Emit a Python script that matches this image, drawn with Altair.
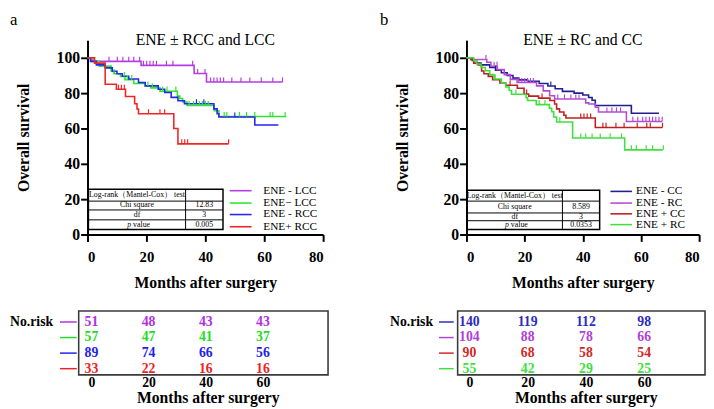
import altair as alt
import pandas as pd

SERIF = "Liberation Serif"

# ---------------- Panel a : ENE ± RCC and LCC ----------------
A_TITLE = "ENE ± RCC and LCC"
A_NAMES = ["ENE - LCC", "ENE− LCC", "ENE - RCC", "ENE+ RCC"]
A_LINE_COLORS = ["#B43CE6", "#2EE62E", "#2626F0", "#F02626"]
A_TEXT_COLORS = ["#B030E0", "#22DD22", "#2222EE", "#EE2222"]

A1_T = [0, 1.5, 18.2, 36.2, 40.4, 66.2]
A1_S = [100, 98, 95.7, 91.1, 86.3, 86.3]
A1_C = [7.3, 10.1, 12, 14, 15.7, 17.7, 19, 20.1, 21.2, 22.3, 23.4, 26.8, 29, 35.7,
        37.4, 39.9, 41.8, 42.9, 44, 45.1, 46.2, 49, 52.1, 55.1, 59, 62.9, 66.2]
A2_T = [0, 2, 4, 8, 9, 11.2, 12.7, 15.7, 19.6, 21.5, 24.6, 30.5, 31.3, 32.3, 33.8, 43, 44.6, 67.5]
A2_S = [100, 98, 95.3, 92.5, 91, 89.4, 87.6, 85.5, 84, 83, 81.1, 78.3, 77, 75, 73, 70, 66.8, 66.8]
A2_C = [9, 12.5, 13.5, 15, 20.5, 22, 25.5, 27, 30, 34.5, 36, 37, 38, 39, 40, 41,
        46.4, 47.3, 51.6, 54, 56.8, 62, 62.9, 67.1]
A3_T = [0, 1, 3, 6, 8.4, 10, 11.8, 14, 17.3, 19.6, 24, 26.2, 28.4, 30.7, 32.9, 42.9, 44, 44.6, 56.8, 64.8]
A3_S = [100, 98, 96, 94.3, 92.4, 91, 89.6, 88, 86, 84.1, 82.2, 80.4, 77.6, 75.7, 74, 71.1, 68.3, 66.5, 62, 62]
A3_C = [37, 39.5, 50]
A4_T = [0, 2.4, 6, 9.8, 12.9, 16, 16.8, 17.3, 29.3, 30.7, 47.9]
A4_S = [100, 97, 85, 82.2, 78.1, 74, 71, 68.3, 60, 51.3, 51.3]
A4_C = [10.5, 11.5, 12.5, 20.7, 24.6, 26.2, 32, 33, 34, 47.9]

A_STAT_LABELS = ["Log-rank（Mantel-Cox） test", "Chi square", "df", "p value"]
A_STAT_VALUES = ["", "12.83", "3", "0.005"]

A_RISK_TIMES = [0, 20, 40, 60]
A1_RISK = [51, 48, 43, 43]
A2_RISK = [57, 47, 41, 37]
A3_RISK = [89, 74, 66, 56]
A4_RISK = [33, 22, 16, 16]

# ---------------- Panel b : ENE ± RC and CC ----------------
B_TITLE = "ENE ± RC and CC"
B_NAMES = ["ENE -  CC", "ENE - RC", "ENE + CC", "ENE +  RC"]
B_LINE_COLORS = ["#20208E", "#B44BD6", "#BE2020", "#3EE03E"]
B_TEXT_COLORS = ["#2B2BC0", "#B040D8", "#D02828", "#3CE03C"]

B1_T = [0, 2, 3.5, 5, 8, 10, 12, 14, 16, 18, 21, 25, 28, 30.5, 33, 37, 40, 42, 43.2, 44.3, 56.7, 66.2]
B1_S = [100, 98.5, 97, 96, 94.5, 93, 91.5, 90, 88.5, 87.5, 86.7, 85.5, 84, 82.5, 81, 80, 79, 77.5, 76, 73, 68.6, 68.6]
B1_C = [10, 29]
B2_T = [0, 1.5, 7, 8.4, 10.6, 13, 15.1, 17.4, 24.1, 26.4, 28.6, 30.3, 41, 42.1, 44.3, 45.4, 55, 67.3]
B2_S = [100, 99, 97.5, 95.2, 93.3, 90.5, 87.8, 86, 84.1, 81.3, 78.5, 76.7, 74.5, 73.9, 72, 69.3, 64, 64]
B2_C = [6.7, 9.5, 10.5, 18, 19, 20, 21, 22, 23, 31.4, 33.7, 35.9, 37.6, 38.7, 48.3, 50, 51.6, 53,
        57.2, 58.9, 60.6, 61.7, 62.9, 64, 65.1, 66.2, 67.3]
B3_T = [0, 1.5, 2.5, 4, 5.2, 6, 7.5, 9, 11.5, 13.5, 17.5, 19.8, 21.4, 24.8, 28.7, 30.3, 31, 32, 33.5, 34.2, 44.3, 67.4]
B3_S = [100, 99, 97, 95.9, 92.5, 91, 89.5, 87.6, 85.7, 84.5, 82.8, 79.5, 78.3, 77.2, 75.8, 73.9, 71.1, 69.3, 67.5, 65.9, 60.6, 60.6]
B3_C = [15, 20.7, 26, 39.3, 40.4, 41.5, 42.7, 46.9, 48, 51.4, 54.2, 58.7, 62, 63.2, 67.4]
B4_T = [0, 2.5, 3.5, 5, 6.5, 8, 9.5, 12, 13.5, 14.7, 15.5, 20.5, 21, 24, 28.5, 29.3, 30, 31, 36.5, 54.4, 67.5]
B4_S = [100, 98.5, 96.5, 94.5, 92.7, 90.5, 88, 85.7, 83.5, 81.5, 79.4, 77.4, 75.8, 73.5, 71.5, 69.5, 66.5, 63.7, 54.6, 47.9, 47.9]
B4_C = [9.9, 17, 25, 27, 32.1, 39.3, 41, 43.2, 46, 49.4, 53.3, 56.7, 58.4, 61.8, 64, 67.7]

B_STAT_LABELS = ["Log-rank（Mantel-Cox） test", "Chi square", "df", "p value"]
B_STAT_VALUES = ["", "8.589", "3", "0.0353"]

B_RISK_TIMES = [0, 20, 40, 60]
B1_RISK = [140, 119, 112, 98]
B2_RISK = [104, 88, 78, 66]
B3_RISK = [90, 68, 58, 54]
B4_RISK = [55, 42, 29, 25]

TICK_H = 2.6  # censor tick height (survival units)


def step_value(ts, ss, c):
    v = ss[0]
    for t, s in zip(ts, ss):
        if t <= c:
            v = s
    return v


def km_plot(title, names, colors, series, width, st_x, st_y, labels, values, leg_x, leg_y):
    xs = alt.Scale(domain=[0, 80], nice=False, zero=False)
    ys = alt.Scale(domain=[0, 110], nice=False, zero=False)
    axis_style = dict(domainColor="black", domainWidth=2, tickColor="black", tickWidth=2,
                      labelFont=SERIF, labelFontWeight="bold", labelColor="black",
                      titleFont=SERIF, titleFontWeight="bold", titleFontSize=16, titleColor="black",
                      grid=False)
    xaxis = alt.Axis(values=[0, 20, 40, 60, 80], title="Months after surgery", tickSize=7,
                     labelFontSize=15, labelPadding=9, titlePadding=10, **axis_style)
    yaxis = alt.Axis(values=[0, 20, 40, 60, 80, 100], title="Overall survival", tickSize=7,
                     labelFontSize=16, labelPadding=1, titlePadding=25, **axis_style)

    def X(f):
        return alt.X(f, scale=xs, axis=xaxis)

    def Y(f):
        return alt.Y(f, scale=ys, axis=yaxis)

    crow, krow = [], []
    for name, col, (ts, ss, cs) in zip(names, colors, series):
        for i, (t, s) in enumerate(zip(ts, ss)):
            crow.append(dict(t=t, s=s, g=name, col=col, i=i))
        for c in cs:
            v = step_value(ts, ss, c)
            krow.append(dict(t=c, s=v, s2=v + TICK_H, g=name, col=col))
    cdf, kdf = pd.DataFrame(crow), pd.DataFrame(krow)

    lines = alt.Chart(cdf).mark_line(interpolate="step-after", strokeWidth=1.6).encode(
        x=X("t:Q"), y=Y("s:Q"), color=alt.Color("col:N", scale=None),
        detail="g:N", order="i:Q")
    ticks = alt.Chart(kdf).mark_rule(strokeWidth=1.2).encode(
        x=X("t:Q"), y=Y("s:Q"), y2="s2:Q", color=alt.Color("col:N", scale=None))

    # statistics box
    x0, xd, x1 = st_x
    box = alt.Chart(pd.DataFrame([dict(a=x0, b=x1, c=st_y[0], d=st_y[-1])])).mark_rect(
        fillOpacity=0, stroke="black", strokeWidth=1.5).encode(
        x=X("a:Q"), x2="b:Q", y=Y("c:Q"), y2="d:Q")
    hl = alt.Chart(pd.DataFrame([dict(a=x0, b=x1, c=y) for y in st_y[1:-1]])).mark_rule(
        color="black", strokeWidth=1).encode(x=X("a:Q"), x2="b:Q", y=Y("c:Q"))
    vl = alt.Chart(pd.DataFrame([dict(a=xd, c=st_y[0], d=st_y[-1])])).mark_rule(
        color="black", strokeWidth=1).encode(x=X("a:Q"), y=Y("c:Q"), y2="d:Q")
    trows, prow = [], []
    for k, (lab, val) in enumerate(zip(labels, values)):
        ym = (st_y[k] + st_y[k + 1]) / 2
        if lab.startswith("p "):
            prow.append(dict(x=(x0 + xd) / 2, y=ym, a="p", b=lab[2:]))
        else:
            trows.append(dict(x=(x0 + xd) / 2, y=ym, txt=lab))
        trows.append(dict(x=(xd + x1) / 2, y=ym, txt=val))
    ttext = alt.Chart(pd.DataFrame(trows)).mark_text(
        font=SERIF, fontSize=8, baseline="middle", color="black").encode(
        x=X("x:Q"), y=Y("y:Q"), text="txt:N")
    pdf = pd.DataFrame(prow)
    ptext = alt.Chart(pdf).mark_text(font=SERIF, fontSize=8, baseline="middle", align="right",
                                     fontStyle="italic", dx=-6, color="black").encode(
        x=X("x:Q"), y=Y("y:Q"), text="a:N")
    vtext = alt.Chart(pdf).mark_text(font=SERIF, fontSize=8, baseline="middle", align="left",
                                     dx=-4, color="black").encode(
        x=X("x:Q"), y=Y("y:Q"), text="b:N")

    # legend
    ldf = pd.DataFrame([dict(a=leg_x[0], b=leg_x[1], tx=leg_x[2], y=y, g=n, col=c)
                        for n, c, y in zip(names, colors, leg_y)])
    lrule = alt.Chart(ldf).mark_rule(strokeWidth=1.6).encode(
        x=X("a:Q"), x2="b:Q", y=Y("y:Q"), color=alt.Color("col:N", scale=None))
    ltext = alt.Chart(ldf).mark_text(font=SERIF, fontSize=11.5, align="left", baseline="middle",
                                     color="black").encode(
        x=X("tx:Q"), y=Y("y:Q"), text="g:N")

    return alt.layer(lines, ticks, box, hl, vl, ttext, ptext, vtext, lrule, ltext).properties(
        width=width, height=198,
        title=alt.TitleParams(title, font=SERIF, fontSize=16, fontWeight="normal", color="black",
                              offset=-8))


def risk_table(names, colors, risks, times, width, x_dom, box_x, line_x, norisk_x):
    xs = alt.Scale(domain=x_dom, nice=False, zero=False)
    ys = alt.Scale(domain=[0.3, 4.4], nice=False, zero=False, reverse=True)
    xaxis = alt.Axis(values=times, title="Months after surgery", domain=False, ticks=False, tickSize=0,
                     labelFont=SERIF, labelFontWeight="bold", labelFontSize=14, labelColor="black",
                     labelPadding=1, titleFont=SERIF, titleFontWeight="bold", titleFontSize=16,
                     titleColor="black", titlePadding=0, grid=False)

    def X(f):
        return alt.X(f, scale=xs, axis=xaxis)

    def Y(f):
        return alt.Y(f, scale=ys, axis=None)

    rows = []
    for r, (n, c, vals) in enumerate(zip(names, colors, risks), start=1):
        for t, v in zip(times, vals):
            rows.append(dict(t=t, r=r, v=str(v), col=c))
    df = pd.DataFrame(rows)
    nums = alt.Chart(df).mark_text(font=SERIF, fontSize=14, fontWeight="bold", baseline="middle").encode(
        x=X("t:Q"), y=Y("r:Q"), text="v:N", color=alt.Color("col:N", scale=None))
    box = alt.Chart(pd.DataFrame([dict(a=box_x[0], b=box_x[1], c=0.3, d=4.4)])).mark_rect(
        fillOpacity=0, stroke="#3a3a3a", strokeWidth=1.6).encode(
        x=X("a:Q"), x2="b:Q", y=Y("c:Q"), y2="d:Q")
    ldf = pd.DataFrame([dict(a=line_x[0], b=line_x[1], r=r, col=c)
                        for r, c in enumerate(colors, start=1)])
    lines = alt.Chart(ldf).mark_rule(strokeWidth=1.5).encode(
        x=X("a:Q"), x2="b:Q", y=Y("r:Q"), color=alt.Color("col:N", scale=None))
    nr = alt.Chart(pd.DataFrame([dict(x=norisk_x, r=1, txt="No.risk")])).mark_text(
        font=SERIF, fontSize=14, fontWeight="bold", align="right", baseline="middle", color="black").encode(
        x=X("x:Q"), y=Y("r:Q"), text="txt:N")
    return alt.layer(nums, box, lines, nr).properties(width=width, height=65)


plot_a = km_plot(A_TITLE, A_NAMES, A_LINE_COLORS,
                 [(A1_T, A1_S, A1_C), (A2_T, A2_S, A2_C), (A3_T, A3_S, A3_C), (A4_T, A4_S, A4_C)],
                 240, (0.3, 33.3, 46), [25.6, 18.9, 13.9, 8.3, 2.8], A_STAT_LABELS, A_STAT_VALUES,
                 (48.3, 55.7, 59.7), [24.8, 17.8, 11.3, 4.4])
plot_b = km_plot(B_TITLE, B_NAMES, B_LINE_COLORS,
                 [(B1_T, B1_S, B1_C), (B2_T, B2_S, B2_C), (B3_T, B3_S, B3_C), (B4_T, B4_S, B4_C)],
                 237, (0.2, 33, 45.8), [25, 18.9, 12.2, 7.8, 2.8], B_STAT_LABELS, B_STAT_VALUES,
                 (49.5, 56.9, 58.3), [24.4, 17.8, 11.7, 5.6])

table_a = risk_table(A_NAMES, A_TEXT_COLORS, [A1_RISK, A2_RISK, A3_RISK, A4_RISK], A_RISK_TIMES,
                     245, [-1.37, 82.8], (-4.46, 82.8), (-11, -5.15), -13.4)
table_b = risk_table(B_NAMES, B_TEXT_COLORS, [B1_RISK, B2_RISK, B3_RISK, B4_RISK], B_RISK_TIMES,
                     243, [-1.01, 80.9], (-4.04, 80.9), (-10.45, -5.39), -12.47)

panel_title = dict(anchor="start", font=SERIF, fontSize=17, fontWeight="normal", color="black", offset=3)
left = alt.vconcat(plot_a, table_a, spacing=20, title=alt.TitleParams("a", **panel_title))
right = alt.vconcat(plot_b, table_b, spacing=20, title=alt.TitleParams("b", dx=-10, **panel_title))

chart = alt.hconcat(left, right, spacing=52).properties(
    padding={"left": 2, "top": 0, "right": 0, "bottom": 0}
).configure(font=SERIF).configure_view(strokeWidth=0)

chart.save("out.html", embed_options={"renderer": "svg", "actions": False})
